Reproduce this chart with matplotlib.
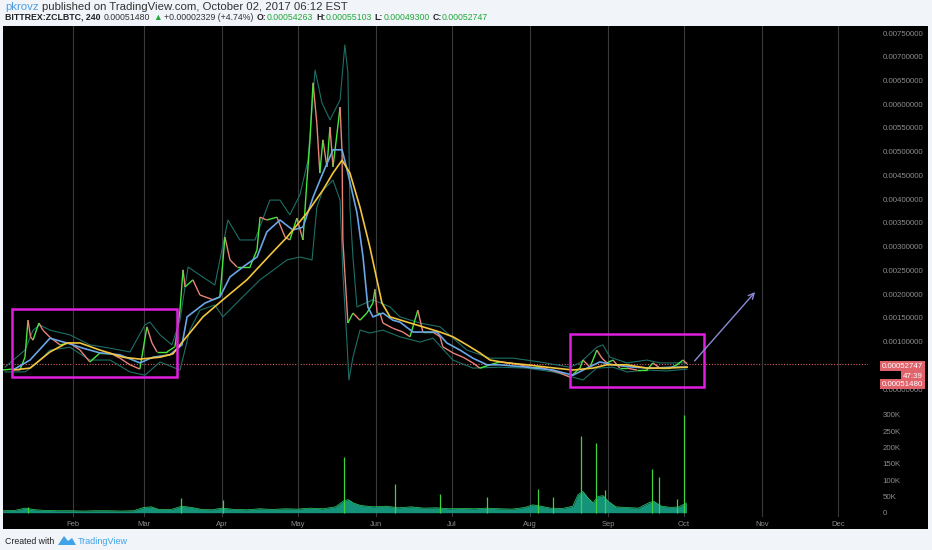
import matplotlib
matplotlib.use("Agg")
import matplotlib.pyplot as plt
import matplotlib.transforms as mtransforms
from matplotlib.patches import Rectangle, Polygon
from matplotlib.collections import LineCollection

plt.rcParams['font.family'] = ['Liberation Sans', 'DejaVu Sans']

W, H = 932, 550

# day of year 2017, price in units of 1e-4 BTC
close_pts = [(3.3, 4.0), (7.0, 4.2), (10.0, 4.0), (12.0, 6.7), (13.2, 14.5), (14.2, 11.0), (15.2, 10.3),
             (17.5, 13.9), (19.1, 12.4), (21.9, 10.9), (25.9, 9.3), (29.8, 9.7), (33.8, 8.2), (37.7, 5.7),
             (41.7, 7.6), (45.7, 7.6), (49.6, 6.5), (53.6, 5.1), (57.5, 4.2), (60.3, 13.1), (62.3, 9.7),
             (64.3, 7.8), (68.2, 7.8), (71.4, 8.9), (73.4, 16.6), (74.6, 25.1), (75.4, 21.5), (78.5, 23.0),
             (81.3, 19.8), (86.5, 18.8), (89.2, 19.4), (91.2, 32.0), (93.2, 27.2), (96.0, 25.7), (101.1, 25.7),
             (103.9, 29.3), (105.1, 36.2), (107.8, 35.6), (111.8, 36.2), (115.0, 32.0), (116.9, 31.4),
             (119.7, 36.0), (122.1, 31.4), (123.7, 44.0), (124.9, 52.5), (126.1, 64.5), (127.6, 56.0),
             (128.8, 45.5), (130.0, 52.5), (131.6, 46.8), (132.8, 55.2), (134.0, 46.8), (135.6, 53.9),
             (136.8, 59.4), (137.6, 49.7), (137.9, 31.4), (138.7, 24.4), (139.9, 13.9), (141.9, 16.0),
             (144.7, 14.5), (147.4, 16.0), (149.8, 18.1), (150.6, 21.0), (151.5, 16.0), (152.6, 16.0),
             (153.8, 13.9), (157.7, 12.8), (161.7, 12.0), (164.5, 11.0), (167.6, 16.6), (169.6, 12.0),
             (173.6, 12.0), (176.4, 11.0), (177.5, 8.9), (181.5, 7.6), (185.5, 6.7), (189.4, 5.5), (192.2, 4.4),
             (196.2, 5.1), (200.1, 5.7), (204.1, 5.5), (208.0, 5.1), (212.0, 4.6), (215.9, 4.6), (219.9, 4.0),
             (223.9, 3.4), (227.8, 2.5), (231.8, 4.4), (233.0, 6.1), (235.8, 4.6), (238.5, 8.2), (240.5, 6.5),
             (242.5, 5.5), (244.9, 6.1), (247.6, 4.4), (250.4, 4.4), (254.4, 4.0), (258.3, 4.0), (260.7, 5.5),
             (263.5, 4.4), (267.4, 4.4), (270.2, 5.1), (272.6, 6.1), (274.2, 5.3)]

blue_pts = [(7.2, 4.0), (14.0, 6.1), (21.9, 10.7), (28.6, 9.7), (35.0, 8.6), (41.7, 7.6), (49.6, 7.2),
            (57.5, 5.5), (62.7, 6.7), (69.4, 7.2), (74.2, 9.3), (76.2, 15.2), (83.3, 18.1), (89.2, 19.4),
            (93.2, 23.6), (98.3, 25.7), (103.9, 27.8), (107.8, 33.1), (113.0, 35.6), (118.1, 33.5),
            (122.1, 34.1), (126.1, 40.4), (130.0, 45.5), (134.0, 50.4), (137.6, 50.4), (139.9, 45.5),
            (143.5, 37.1), (145.9, 27.8), (147.8, 17.3), (149.8, 15.2), (153.8, 16.0), (157.7, 14.5),
            (160.5, 14.1), (165.7, 12.0), (171.2, 12.0), (175.2, 12.0), (179.1, 9.7), (184.3, 8.2),
            (189.4, 6.5), (195.0, 5.1), (200.1, 5.1), (210.8, 4.6), (221.1, 4.0), (229.0, 2.9), (234.6, 4.4),
            (239.7, 5.7), (244.9, 5.1), (252.8, 4.6), (260.7, 4.4), (268.6, 4.6), (274.2, 4.6)]

gold_pts = [(7.2, 4.0), (14.0, 4.4), (21.9, 7.8), (28.6, 9.7), (33.8, 9.7), (41.7, 8.2), (50.8, 6.7),
            (57.5, 6.3), (65.5, 6.7), (70.6, 7.4), (73.4, 9.3), (82.5, 15.2), (90.4, 18.8), (99.9, 23.0),
            (109.0, 28.2), (115.8, 32.0), (123.7, 37.1), (130.0, 41.9), (134.0, 45.5), (137.6, 48.2),
            (140.7, 45.5), (144.7, 38.3), (148.6, 29.9), (151.4, 23.0), (153.4, 18.1), (156.6, 15.2),
            (163.3, 14.1), (169.6, 13.1), (176.4, 12.0), (181.5, 11.0), (187.0, 9.3), (192.2, 7.6),
            (196.2, 6.1), (202.9, 5.5), (210.8, 5.1), (218.7, 4.6), (229.0, 4.0), (236.9, 4.4), (242.5, 5.1),
            (250.4, 5.1), (258.3, 4.4), (266.3, 4.4), (274.2, 4.6)]

upper_pts = [(4.1, 4.6), (12.0, 8.2), (15.2, 12.4), (17.9, 13.5), (21.9, 12.4), (29.8, 11.4), (37.7, 9.3),
             (45.7, 8.6), (53.6, 7.8), (59.5, 13.5), (61.5, 14.1), (65.5, 11.4), (70.2, 9.3), (73.4, 14.5),
             (76.6, 25.7), (81.3, 24.0), (87.2, 21.9), (92.4, 35.6), (97.1, 31.4), (103.1, 31.4), (109.0, 39.8),
             (113.0, 39.8), (116.9, 36.7), (120.9, 40.9), (124.1, 48.2), (126.9, 67.2), (129.6, 60.3),
             (132.8, 56.7), (136.8, 60.9), (138.7, 72.5), (139.9, 66.6), (140.7, 38.3), (141.9, 27.8),
             (143.5, 17.3), (149.8, 18.8), (156.6, 17.3), (160.5, 15.2), (168.4, 13.9), (176.4, 13.1),
             (187.0, 8.2), (196.2, 6.5), (205.3, 6.5), (215.9, 5.7), (227.8, 4.6), (231.8, 5.5), (238.5, 8.8),
             (240.9, 9.3), (243.7, 6.7), (250.4, 5.5), (258.3, 6.1), (263.5, 5.5), (274.2, 5.5)]

lower_pts = [(4.1, 3.6), (12.0, 3.6), (16.0, 5.1), (21.9, 8.2), (29.8, 8.8), (37.7, 6.1), (45.7, 6.1),
             (53.6, 3.6), (59.5, 2.9), (65.5, 5.7), (73.4, 4.0), (77.3, 12.4), (81.3, 16.6), (87.2, 17.7),
             (90.4, 15.2), (97.1, 18.8), (105.1, 23.0), (115.8, 27.2), (120.9, 27.8), (125.7, 27.2),
             (127.6, 38.3), (130.0, 41.9), (134.0, 44.0), (136.8, 39.8), (137.9, 24.4), (139.5, 10.3),
             (140.3, 1.9), (141.9, 6.7), (144.7, 12.4), (148.6, 11.8), (153.8, 12.4), (160.5, 11.0),
             (168.4, 9.9), (173.6, 10.7), (181.5, 6.1), (189.4, 4.4), (200.1, 4.6), (210.8, 4.4), (221.1, 3.6),
             (229.0, 2.5), (233.0, 1.9), (238.5, 4.4), (244.9, 4.6), (250.4, 3.6), (258.3, 4.0), (266.3, 3.8),
             (274.2, 4.2)]

# volume, thousands
vol_pts = [(3, 6), (8, 7), (12, 14), (16, 9), (20, 7), (25, 6), (30, 6), (35, 5), (40, 6), (45, 6), (50, 5),
           (55, 6), (59, 16), (62, 18), (65, 10), (70, 10), (74, 20), (78, 16), (82, 10), (86, 9), (90, 14),
           (95, 10), (100, 9), (105, 12), (110, 10), (115, 12), (120, 11), (125, 14), (130, 12), (135, 18),
           (138, 35), (140, 40), (142, 30), (145, 22), (150, 18), (155, 20), (160, 15), (165, 18), (170, 14),
           (175, 15), (180, 12), (185, 13), (190, 12), (195, 14), (200, 12), (205, 11), (210, 16), (213, 24),
           (215, 22), (220, 14), (225, 13), (229, 20), (231, 55), (233, 65), (235, 45), (237, 30), (239, 50),
           (241, 52), (243, 35), (246, 18), (250, 16), (255, 14), (259, 30), (261, 35), (264, 20), (268, 16),
           (271, 18), (274, 30)]
spike_pts = [(13.2, 16), (73.8, 44), (90.4, 39), (138.2, 169), (158.5, 87), (176.4, 57), (195.0, 49),
             (215.2, 74), (221.1, 47), (232.2, 234), (238.1, 214), (241.7, 69), (260.3, 135), (263.1, 108),
             (270.2, 41), (273.0, 298)]

month_days = [31, 59, 90, 120, 151, 181, 212, 243, 273, 304, 334]
month_labels = ["Feb", "Mar", "Apr", "May", "Jun", "Jul", "Aug", "Sep", "Oct", "Nov", "Dec"]
price_ticks = [0.0075, 0.0070, 0.0065, 0.0060, 0.0055, 0.0050, 0.0045, 0.0040, 0.0035, 0.0030,
               0.0025, 0.0020, 0.0015, 0.0010, 0.0]
vol_ticks = [0, 50, 100, 150, 200, 250, 300]
vol_labels = ["0", "50K", "100K", "150K", "200K", "250K", "300K"]
last_close = 0.00052747
last_price = 0.00051480


def split(pts, scale=1e-4):
    return [p[0] for p in pts], [p[1] * scale for p in pts]


fig = plt.figure(figsize=(W / 100, H / 100), dpi=100, facecolor='#f1f4f9')
fig.patches.append(Rectangle((3 / W, 1 - 529 / H), 925 / W, 503 / H, transform=fig.transFigure,
                             facecolor='black', edgecolor='none', zorder=-1))

ax = fig.add_axes([3 / W, 1 - 517 / H, 865 / W, 491 / H])
vax = ax.twinx()
ax.set_facecolor('none')
ax.set_xlim(3.3, 345.9)
ax.set_ylim(-0.0026965, 0.0076475)
for s in list(ax.spines.values()) + list(vax.spines.values()):
    s.set_visible(False)
ax.set_xticks(month_days, month_labels)
ax.tick_params(axis='x', length=0, pad=3, colors='#8c8c8c', labelsize=5.5)
ax.grid(axis='x', color='#3a3a3a', linewidth=0.8)
ax.yaxis.tick_right()
ax.set_yticks(price_ticks, ['%.8f' % t for t in price_ticks])
ax.tick_params(axis='y', length=0, pad=10.5, colors='#8c8c8c', labelsize=5.7)

# bands
for pts in (upper_pts, lower_pts):
    x, y = split(pts)
    ax.plot(x, y, color='#1d6f66', lw=0.8, zorder=2)

# price line coloured by direction
x, y = split(close_pts)
segs = [[(x[i], y[i]), (x[i + 1], y[i + 1])] for i in range(len(x) - 1)]
cols = ['#45e83a' if y[i + 1] >= y[i] else '#e9837a' for i in range(len(x) - 1)]
ax.add_collection(LineCollection(segs, colors=cols, linewidths=1.0, zorder=3))

x, y = split(blue_pts)
ax.plot(x, y, color='#6aa6e6', lw=1.2, zorder=4)
x, y = split(gold_pts)
ax.plot(x, y, color='#f2c53d', lw=1.2, zorder=4)

ax.axhline(last_close, color='#d9636b', ls=(0, (1, 1.5)), lw=0.8, zorder=1)

# highlight boxes and arrow
ax.add_patch(Rectangle((6.85, 0.000253), 65.35, 0.001432, fill=False, ec='#e01ee0', lw=1.8, zorder=5))
ax.add_patch(Rectangle((227.8, 0.000042), 53.1, 0.001117, fill=False, ec='#e01ee0', lw=1.8, zorder=5))
ax.annotate('', xy=(301.9, 0.002086), xytext=(276.5, 0.000548),
            arrowprops=dict(arrowstyle='->', color='#8a8ad8', lw=1.0, mutation_scale=10), zorder=5)

# price labels on the axis
trans = mtransforms.blended_transform_factory(ax.transAxes, ax.transData)
label_x = (923 - 3) / 865
box = dict(boxstyle='square,pad=0.22', fc='#e0626b', ec='none')
for txt, dy in (('0.00052747', -1.5), ('47:39', -8.8), ('0.00051480', -14.5)):
    t = mtransforms.offset_copy(trans, fig=fig, y=dy, units='points')
    ax.text(label_x, last_close, txt, transform=t, ha='right', va='center', color='white',
            fontsize=5.7, bbox=box, zorder=10, clip_on=False)

# volume
vax.set_ylim(-13.2, 1490)
vax.set_yticks(vol_ticks, vol_labels)
vax.tick_params(axis='y', length=0, pad=10.5, colors='#8c8c8c', labelsize=5.7)
vx, vy = split(vol_pts, 1)
vax.fill_between(vx, 0, vy, color='#179c82', lw=0, alpha=0.95)
vax.plot(vx, vy, color='#2fd36a', lw=0.5)
sx, sy = split(spike_pts, 1)
vax.vlines(sx, 0, sy, color='#3bd43b', lw=0.9)

# header
renderer = fig.canvas.get_renderer()


def pieces(x, y, items, size):
    for txt, color, weight, gap in items:
        t = fig.text(x / W, 1 - y / H, txt, color=color, fontsize=size, fontweight=weight,
                     ha='left', va='center')
        x += t.get_window_extent(renderer).width + gap


pieces(5, 7, [('pkrovz', '#4f9ee0', 'normal', 3),
              ('published on TradingView.com, October 02, 2017 06:12 EST', '#333333', 'normal', 0)], 8.2)
green = '#22a83a'
pieces(5, 17, [('BITTREX:ZCLBTC, 240', '#222222', 'bold', 3),
               ('0.00051480', '#333333', 'normal', 3),
               ('\u25B2', green, 'normal', 3),
               ('+0.00002329 (+4.74%)', '#333333', 'normal', 3),
               ('O:', '#222222', 'bold', 0), ('0.00054263', green, 'normal', 3),
               ('H:', '#222222', 'bold', 0), ('0.00055103', green, 'normal', 3),
               ('L:', '#222222', 'bold', 0), ('0.00049300', green, 'normal', 3),
               ('C:', '#222222', 'bold', 0), ('0.00052747', green, 'normal', 0)], 6.3)

# footer
fig.text(5 / W, 1 - 541 / H, 'Created with', color='#222222', fontsize=6.3, va='center')
logo = [(58, 545), (64, 536), (68, 541), (72, 538), (76, 545)]
fig.patches.append(Polygon([(px / W, 1 - py / H) for px, py in logo], closed=True,
                           transform=fig.transFigure, fc='#3ea3e8', ec='none'))
fig.text(78 / W, 1 - 541 / H, 'TradingView', color='#3ea3e8', fontsize=6.5, va='center')

fig.savefig('out.png', dpi=100, facecolor=fig.get_facecolor())
